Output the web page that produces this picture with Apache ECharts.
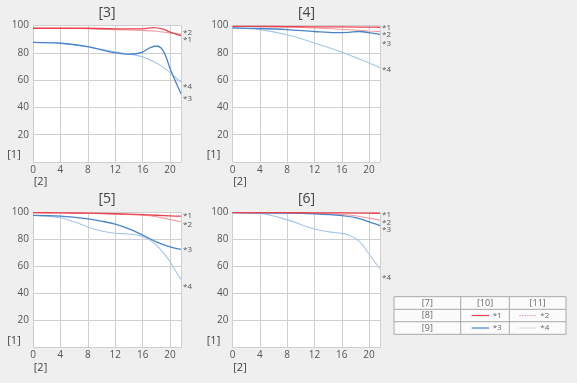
<!DOCTYPE html>
<html><head><meta charset="utf-8">
<script src="https://cdn.jsdelivr.net/npm/echarts@6/dist/echarts.min.js"></script>
<style>html,body{margin:0;padding:0;background:#efefef;}#c{width:577px;height:383px;}</style>
</head><body><div id="c"></div>
<script>
// ---- data ----
const panelTitles = ['[3]', '[4]', '[5]', '[6]'];
const yName = '[1]';
const xName = '[2]';
const seriesNames = ['*1', '*2', '*3', '*4'];
const xTicks = [0, 4, 8, 12, 16, 20];
const yTicks = [20, 40, 60, 80, 100];
const tableHead = ['[7]', '[10]', '[11]'];
const tableRows = ['[8]', '[9]'];

const p3_s1 = [[0,98],[4,98],[8,98],[12,97.6],[16,97.6],[17.6,98.4],[19,97.3],[20,95.2],[21.6,92.5]];
const p3_s2 = [[0,98],[4,98],[8,97.7],[12,97],[16,96.3],[18,95.8],[20,94.5],[21.6,93.5]];
const p3_s3 = [[0,87.7],[4,87],[8,84.5],[10,82.2],[12,80],[14,79],[15,79.3],[16,80.5],[17,83.5],[18,85],[18.7,83.5],[19.3,78.5],[20,68.5],[20.8,59],[21.6,50]];
const p3_s4 = [[0,87.7],[4,87],[8,84.3],[10,82.5],[12,80.7],[14,79.2],[16,77],[18,72.5],[19,69.5],[20,65.5],[21,61],[21.6,58.5]];

const p4_s1 = [[0,99.3],[4,99.3],[8,99.2],[12,99],[16,99],[20,98.8],[21.6,98.7]];
const p4_s2 = [[0,99.3],[4,99.2],[8,98.8],[12,98.2],[16,97.3],[18,96.7],[20,96],[21.6,95.5]];
const p4_s3 = [[0,98.2],[4,97.8],[8,97],[12,95.6],[15,94.8],[17,95],[18.5,95.6],[20,94.8],[21.6,93.5]];
const p4_s4 = [[0,98.2],[4,97],[8,93.2],[12,87.2],[16,80.5],[20,72.5],[21.6,69]];

const p5_s1 = [[0,99.5],[4,99.4],[8,99.1],[12,98.7],[16,98],[20,97.2],[21.6,97]];
const p5_s2 = [[0,99.5],[4,99.4],[8,99],[12,98.5],[16,97.6],[18,96.5],[20,94.5],[21.6,92.8]];
const p5_s3 = [[0,97.5],[4,97],[8,95],[10,93.2],[12,91],[14,87.5],[16,83],[18,78],[20,74.2],[21.6,72.4]];
const p5_s4 = [[0,97.5],[4,95.8],[6,92.8],[8,89],[10,86],[12,84.3],[14,83.8],[16,82],[17,79.5],[18,75.5],[19,70],[20,63.3],[21,55],[21.6,50.3]];

const p6_s1 = [[0,99.6],[4,99.6],[8,99.5],[12,99.4],[16,99.3],[20,99.1],[21.6,99]];
const p6_s2 = [[0,99.6],[4,99.5],[8,99.3],[12,99],[16,98.2],[18,97.2],[20,95.5],[21.6,94]];
const p6_s3 = [[0,99.5],[4,99.3],[8,99.2],[12,98.6],[16,97.3],[18,95.8],[20,92.8],[21.6,90]];
const p6_s4 = [[0,99.5],[4,99],[8,94.2],[12,87.4],[14,85.5],[16,84.2],[17,83],[18,80.5],[19,76],[20,69],[21,62],[21.6,58.4]];

const panels = [[p3_s1,p3_s2,p3_s3,p3_s4],[p4_s1,p4_s2,p4_s3,p4_s4],[p5_s1,p5_s2,p5_s3,p5_s4],[p6_s1,p6_s2,p6_s3,p6_s4]];

// ---- layout / style ----
const grids = [
  {left:33, top:25.5, width:148, height:136.5},
  {left:232.5, top:25.5, width:147.5, height:136.5},
  {left:33, top:212, width:148, height:135.5},
  {left:232.5, top:212, width:147.5, height:135.5}
];
const labelDy = [[3.6,-1.4,5,4.2],[0,3,9,1.5],[-0.3,2.6,0.6,7.4],[1,2.2,4.3,9]];
const lineStyles = [
  {color:'#e8434f', width:1.3, type:'solid'},
  {color:'#f29aa1', width:1.1, type:'solid'},
  {color:'#4a84c8', width:1.3, type:'solid'},
  {color:'#a6c5ea', width:1.1, type:'solid'}
];
const legendDash = [null, [1.5,1], null, [1.5,1]];
const FONT = 'Open Sans';

const option = {
  backgroundColor:'#efefef',
  animation:false,
  grid: grids.map(g => Object.assign({show:true, backgroundColor:'#ffffff', borderWidth:0}, g)),
  xAxis: grids.map((g,i)=>({
    type:'value', gridIndex:i, min:0, max:21.6, interval:4,
    axisLine:{show:false}, axisTick:{show:false},
    splitLine:{show:true, lineStyle:{color:'#cfcfcf', width:1}},
    axisLabel:{show:true, showMaxLabel:false, margin:3, color:'#555', fontSize:10, fontFamily:FONT,
      formatter:v => xTicks.includes(v) ? String(v) : ''}
  })),
  yAxis: grids.map((g,i)=>({
    type:'value', gridIndex:i, min:0, max:100, interval:20,
    axisLine:{show:false}, axisTick:{show:false},
    splitLine:{show:true, lineStyle:{color:'#cfcfcf', width:1}},
    axisLabel:{showMinLabel:false, margin:4, color:'#555', fontSize:10, fontFamily:FONT,
      formatter:v => yTicks.includes(v) ? String(v) : ''}
  })),
  series: [],
  graphic: []
};

panels.forEach((ps,pi)=>{
  ps.forEach((d,si)=>{
    option.series.push({
      type:'line', xAxisIndex:pi, yAxisIndex:pi, data:d, smooth:0.35,
      showSymbol:false, symbol:'none', lineStyle:lineStyles[si], z: [4,2,3,1][si],
      endLabel:{show:true, formatter:seriesNames[si], distance:2, offset:[0,labelDy[pi][si]],
        color:'#555', fontSize:8, fontFamily:FONT}
    });
  });
  const g = grids[pi];
  option.graphic.push({type:'text', x:g.left+74, y:g.top-12.5,
    style:{text:panelTitles[pi], font:'14px "'+FONT+'"', fill:'#444', align:'center', verticalAlign:'middle'}});
  option.graphic.push({type:'text', x:g.left-19, y:g.top+g.height-7,
    style:{text:yName, font:'11px "'+FONT+'"', fill:'#444', align:'center', verticalAlign:'middle'}});
  option.graphic.push({type:'text', x:g.left+7.5, y:g.top+g.height+20,
    style:{text:xName, font:'11px "'+FONT+'"', fill:'#444', align:'center', verticalAlign:'middle'}});
});

// legend table
const tx = [394, 460.7, 509.3, 566];
const ty = [296.7, 309.3, 321.7, 334.3];
option.graphic.push({type:'rect', shape:{x:tx[0], y:ty[0], width:tx[3]-tx[0], height:ty[3]-ty[0]},
  style:{fill:'#fbfbfb', stroke:'#a8a8a8', lineWidth:1}});
[1,2].forEach(i=>{
  option.graphic.push({type:'line', shape:{x1:tx[0], y1:ty[i], x2:tx[3], y2:ty[i]}, style:{stroke:'#a8a8a8', lineWidth:1}});
  option.graphic.push({type:'line', shape:{x1:tx[i], y1:ty[0], x2:tx[i], y2:ty[3]}, style:{stroke:'#a8a8a8', lineWidth:1}});
});
const cellFont = '9px "'+FONT+'"';
tableHead.forEach((t,i)=>{
  option.graphic.push({type:'text', x:(tx[i]+tx[i+1])/2, y:(ty[0]+ty[1])/2,
    style:{text:t, font:cellFont, fill:'#666', align:'center', verticalAlign:'middle'}});
});
tableRows.forEach((t,r)=>{
  const cy = (ty[r+1]+ty[r+2])/2;
  option.graphic.push({type:'text', x:(tx[0]+tx[1])/2, y:cy,
    style:{text:t, font:cellFont, fill:'#666', align:'center', verticalAlign:'middle'}});
  [0,1].forEach(c=>{
    const si = r*2+c;
    const x0 = c===0 ? 471.7 : 519.3;
    const ls = lineStyles[si];
    option.graphic.push({type:'line', shape:{x1:x0, y1:cy, x2:x0+17.5, y2:cy},
      style:{stroke:ls.color, lineWidth:1.2, lineDash: legendDash[si]}});
    option.graphic.push({type:'text', x:x0+21, y:cy,
      style:{text:seriesNames[si], font:'8px "'+FONT+'"', fill:'#666', align:'left', verticalAlign:'middle'}});
  });
});

const chart = echarts.init(document.getElementById('c'), null, {renderer:'canvas'});
chart.setOption(option);
</script></body></html>
